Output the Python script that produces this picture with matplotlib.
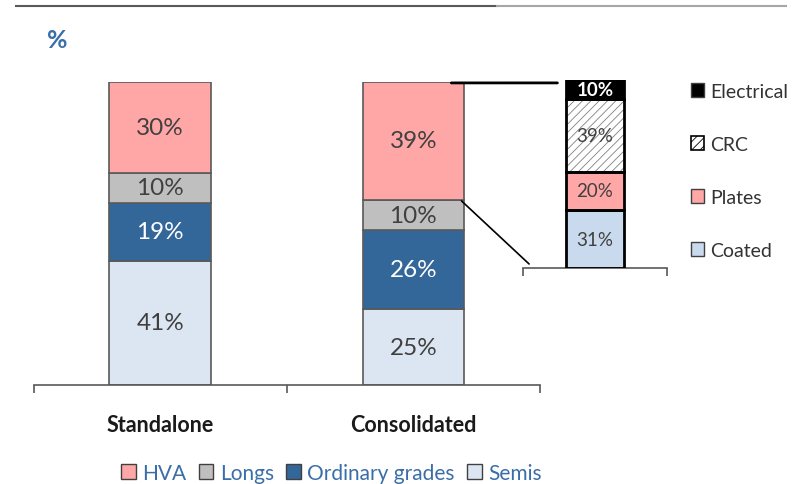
import matplotlib
matplotlib.use("Agg")
import matplotlib.pyplot as plt
from matplotlib.patches import Patch, ConnectionPatch
from matplotlib.lines import Line2D
import numpy as np

plt.rcParams['font.family'] = ['Lato', 'DejaVu Sans']
plt.rcParams['hatch.linewidth'] = 0.6

# main chart data
groups = ['Standalone', 'Consolidated']
series = ['Semis', 'Ordinary grades', 'Longs', 'HVA']
values = {
    'Semis': [41, 25],
    'Ordinary grades': [19, 26],
    'Longs': [10, 10],
    'HVA': [30, 39],
}
colors = {'Semis': '#DCE6F2', 'Ordinary grades': '#336699',
          'Longs': '#BFBFBF', 'HVA': '#FFA6A6'}
txt_colors = {'Semis': '#404040', 'Ordinary grades': 'white',
              'Longs': '#404040', 'HVA': '#404040'}

# breakdown of HVA
hva_parts = ['Coated', 'Plates', 'CRC', 'Electrical']
hva_values = [31, 20, 39, 10]
hva_colors = ['#C9DAEE', '#FFA6A6', 'white', 'black']

blue = '#3A6EA8'

fig = plt.figure(figsize=(8.01, 4.85), dpi=100)
W, H = 801, 485

ax = fig.add_axes([33.5 / W, 1 - 386 / H, (540 - 33.5) / W, (386 - 82.7) / H])
x = np.arange(len(groups))
bottom = np.zeros(len(groups))
for s in series:
    v = np.array(values[s])
    ax.bar(x, v, 0.4, bottom=bottom, color=colors[s], edgecolor='#595959', linewidth=1.2, zorder=2)
    for xi, b, vi in zip(x, bottom, v):
        ax.text(xi, b + vi / 2, '%d%%' % vi, ha='center', va='center',
                fontsize=17.5, color=txt_colors[s], zorder=3)
    bottom += v

ax.set_xlim(-0.5, 1.5)
ax.set_ylim(0, 100)
for sp in ['top', 'right', 'left']:
    ax.spines[sp].set_visible(False)
ax.spines['bottom'].set_color('#595959')
ax.spines['bottom'].set_linewidth(1.2)
ax.set_yticks([])
ax.set_xticks([-0.5, 0.5, 1.5])
ax.set_xticklabels([])
ax.tick_params(axis='x', which='major', length=6, width=1.2, color='#595959', direction='out')
ax.set_xticks(x, minor=True)
ax.set_xticklabels(groups, minor=True, fontsize=15.5, fontweight='bold', color='#1a1a1a')
ax.tick_params(axis='x', which='minor', length=0, pad=21)

# inset bar for HVA split
ax2 = fig.add_axes([522.7 / W, 1 - 269.3 / H, 144.6 / W, 188.6 / H])
b = 0
for name, v, c in zip(hva_parts, hva_values, hva_colors):
    if name == 'CRC':
        ax2.bar(0, v, 0.4, bottom=b, color='white', edgecolor='#808080', hatch='////', linewidth=0, zorder=2)
    else:
        ax2.bar(0, v, 0.4, bottom=b, color=c, linewidth=0, zorder=2)
    ax2.bar(0, v, 0.4, bottom=b, fill=False, edgecolor='black', linewidth=2, zorder=3)
    if name == 'Electrical':
        ax2.text(0, b + v / 2, '%d%%' % v, ha='center', va='center', fontsize=13.5,
                 fontweight='bold', color='white', zorder=4)
    else:
        ax2.text(0, b + v / 2, '%d%%' % v, ha='center', va='center', fontsize=13.5,
                 color='#404040', zorder=4)
    b += v
ax2.set_xlim(-0.5, 0.5)
ax2.set_ylim(0, 100)
for sp in ['top', 'right', 'left']:
    ax2.spines[sp].set_visible(False)
ax2.spines['bottom'].set_color('#595959')
ax2.spines['bottom'].set_linewidth(1.2)
ax2.set_yticks([])
ax2.set_xticks([-0.5, 0.5])
ax2.set_xticklabels([])
ax2.tick_params(axis='x', length=6, width=1.2, color='#595959')

# connector lines between HVA segment and the inset
con1 = ConnectionPatch(xyA=(1.15, 99.6), coordsA=ax.transData,
                       xyB=(-0.26, 98.3), coordsB=ax2.transData,
                       color='black', linewidth=2)
con2 = ConnectionPatch(xyA=(1.19, 60.7), coordsA=ax.transData,
                       xyB=(-0.456, 2.3), coordsB=ax2.transData,
                       color='black', linewidth=1.2)
fig.add_artist(con1)
fig.add_artist(con2)

# inset legend
h2 = []
for name, c in zip(hva_parts, hva_colors):
    if name == 'CRC':
        h2.append(Patch(facecolor='white', edgecolor='black', hatch='////', linewidth=1.2))
    else:
        h2.append(Patch(facecolor=c, edgecolor='#404040', linewidth=1))
fig.legend(h2[::-1], hva_parts[::-1], loc='center left',
           bbox_to_anchor=(673 / W, 1 - 171.7 / H), frameon=False, fontsize=14,
           labelspacing=1.85, handlelength=0.7, handleheight=0.7, handletextpad=0.3,
           labelcolor='#333333')

# bottom legend
order = ['HVA', 'Longs', 'Ordinary grades', 'Semis']
h1 = [Patch(facecolor=colors[s], edgecolor='#404040', linewidth=1) for s in order]
fig.legend(h1, order, loc='center', ncol=4, bbox_to_anchor=(331.5 / W, 1 - 474 / H),
           frameon=False, fontsize=15, handlelength=0.7, handleheight=0.7,
           handletextpad=0.3, columnspacing=0.6, labelcolor=blue)

# title unit and top rule
fig.text(57 / W, 1 - 40 / H, '%', ha='center', va='center', fontsize=18,
         fontweight='bold', color=blue)
fig.add_artist(Line2D([16 / W, 497 / W], [1 - 7 / H, 1 - 7 / H], color='#595959', linewidth=1.5))
fig.add_artist(Line2D([497 / W, 786 / W], [1 - 7 / H, 1 - 7 / H], color='#A6A6A6', linewidth=1.5))

fig.savefig('out.png', dpi=100)
